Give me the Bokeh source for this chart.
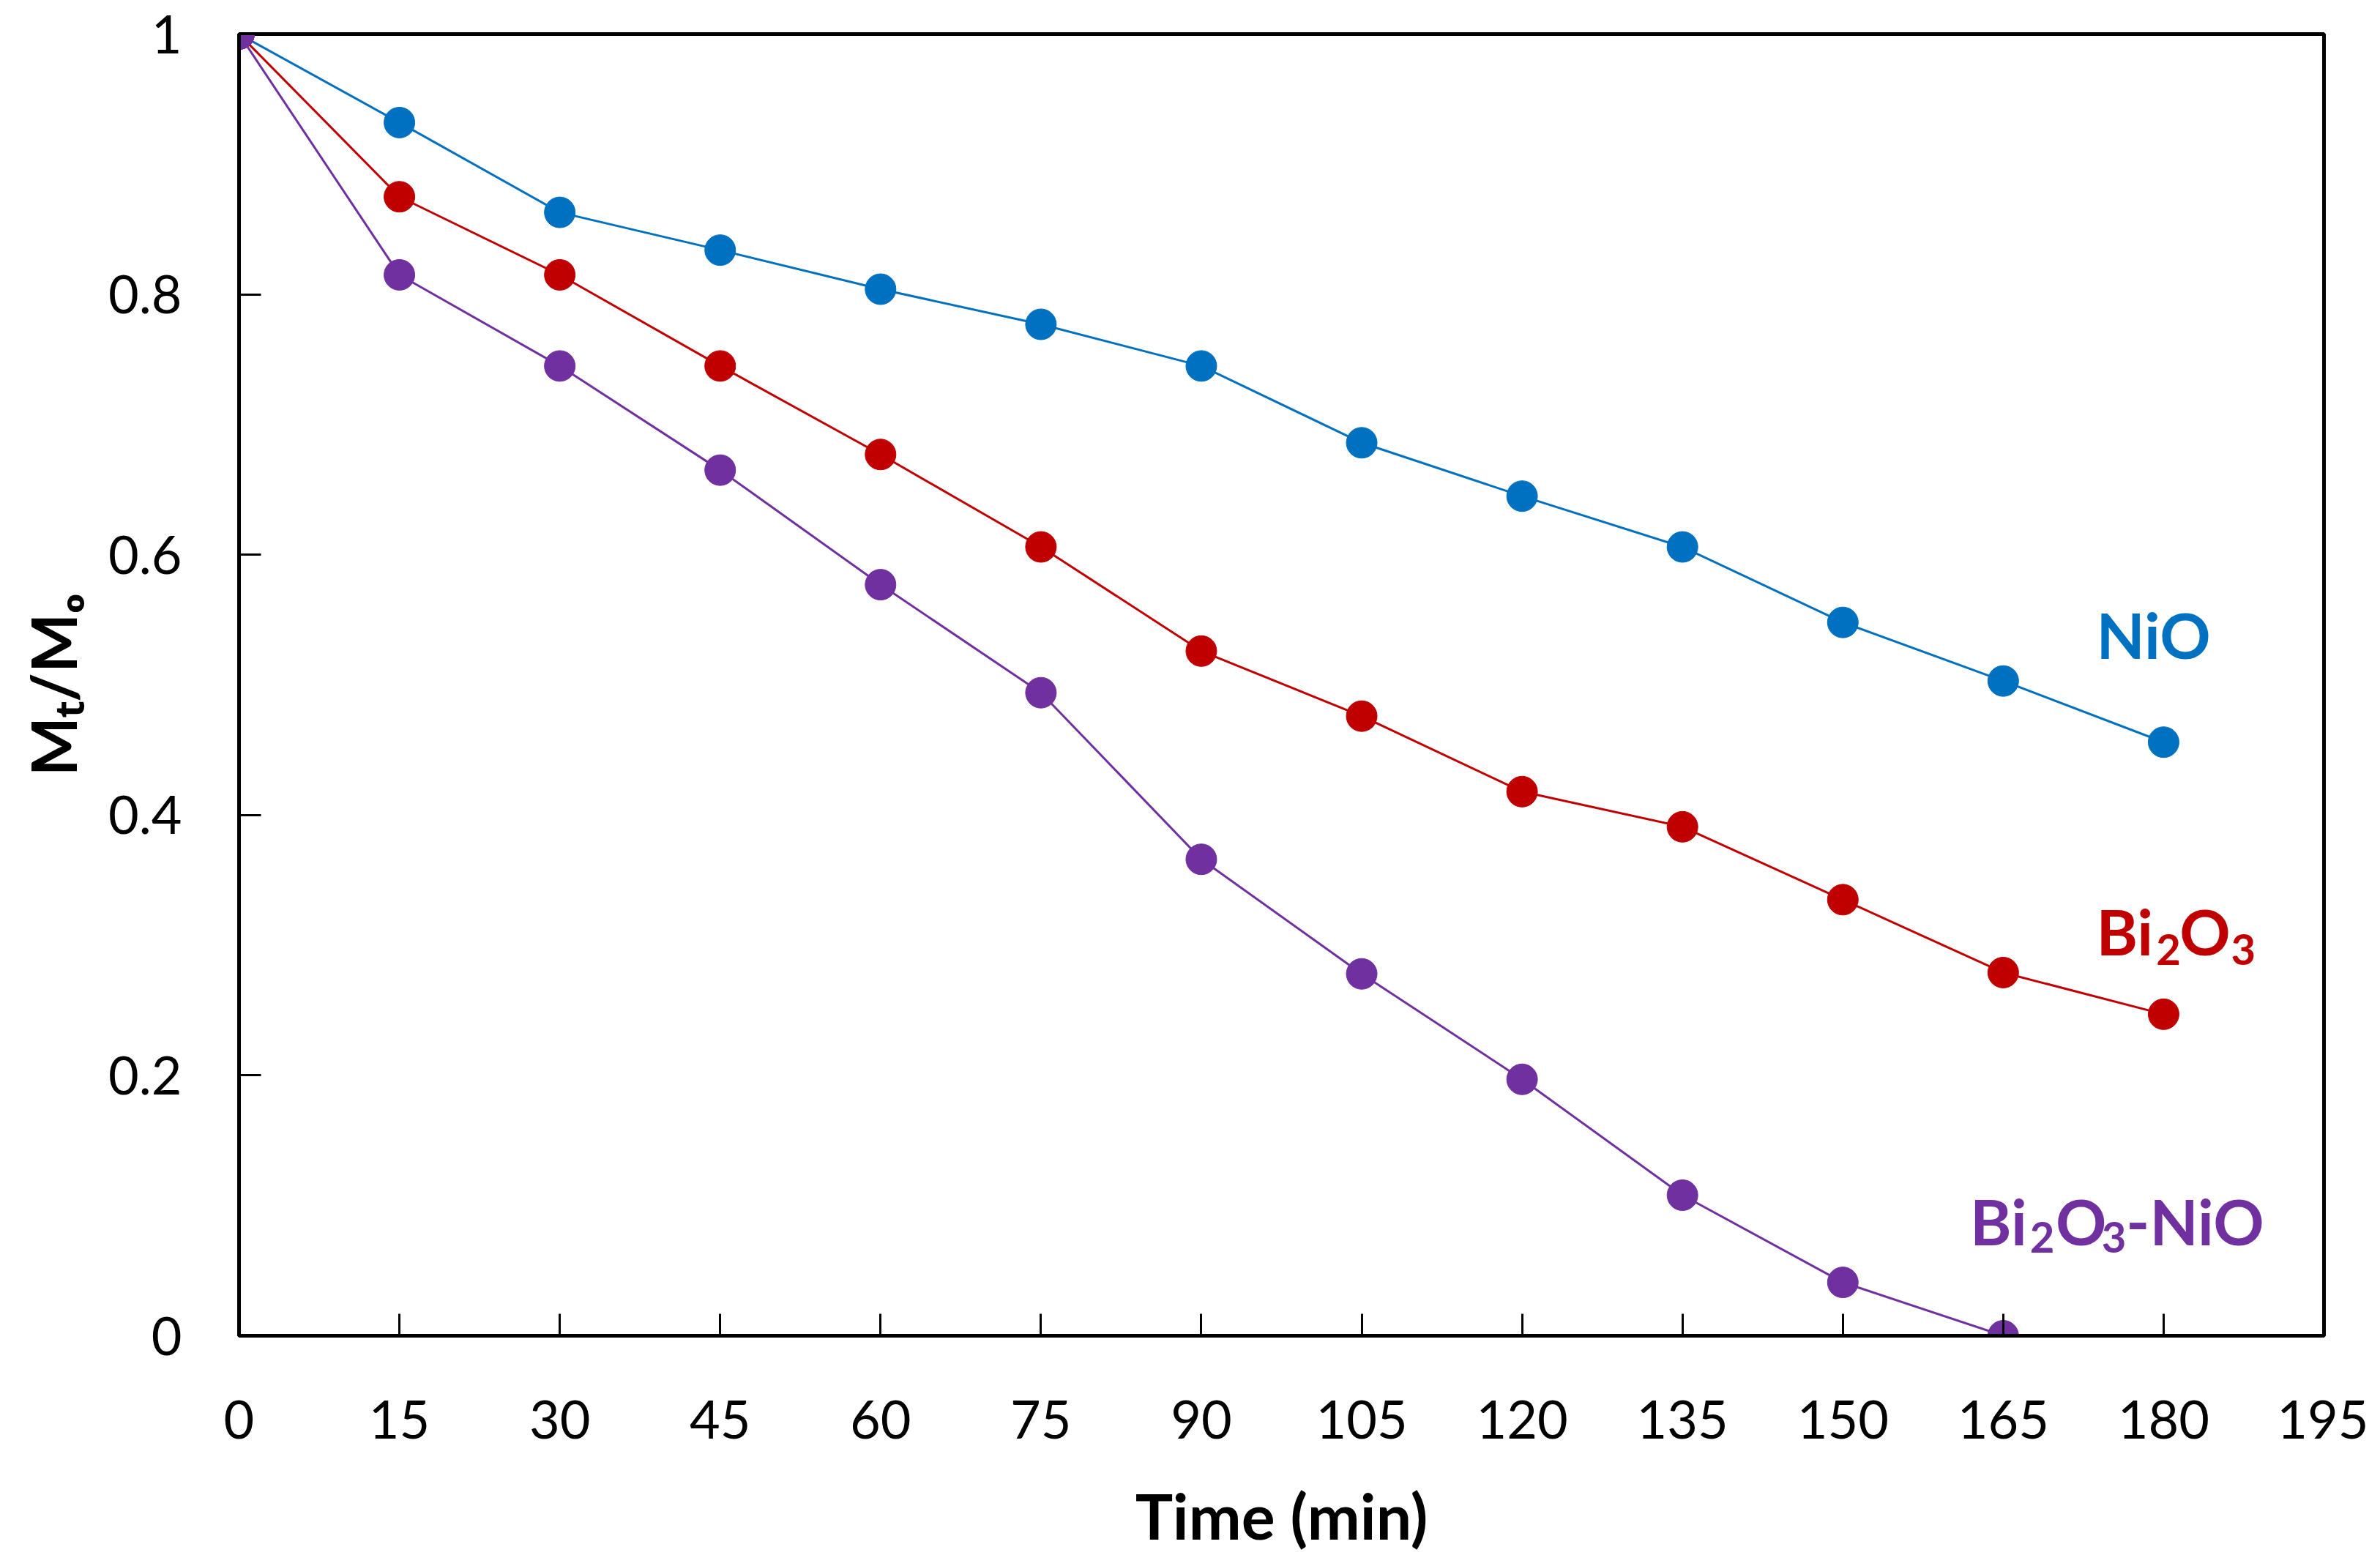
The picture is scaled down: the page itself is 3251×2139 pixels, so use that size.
from bokeh.plotting import figure
from bokeh.models import Range1d, FixedTicker, Label
from bokeh.embed import file_html
from bokeh.resources import INLINE

# ---- data ----
time_min = [0, 15, 30, 45, 60, 75, 90, 105, 120, 135, 150, 165, 180]
nio = [1.0, 0.932, 0.863, 0.834, 0.804, 0.777, 0.745, 0.686, 0.645, 0.606, 0.548, 0.503, 0.456]
bi2o3 = [1.0, 0.875, 0.815, 0.745, 0.677, 0.606, 0.526, 0.476, 0.418, 0.391, 0.335, 0.279, 0.247]
time_mix = [0, 15, 30, 45, 60, 75, 90, 105, 120, 135, 150, 165]
bi2o3_nio = [1.0, 0.815, 0.745, 0.665, 0.577, 0.494, 0.366, 0.278, 0.197, 0.108, 0.041, 0.0]

x_ticks = [0, 15, 30, 45, 60, 75, 90, 105, 120, 135, 150, 165, 180, 195]
x_tick_labels = ["0", "15", "30", "45", "60", "75", "90", "105", "120", "135", "150", "165", "180", "195"]
y_ticks = [0, 0.2, 0.4, 0.6, 0.8, 1.0]
y_tick_labels = ["0", "0.2", "0.4", "0.6", "0.8", "1"]

BLUE = "#0070C0"
RED = "#C00000"
PURPLE = "#7030A0"
FONT = "Lato"

W, H = 3235, 2123
p = figure(width=W, height=H, output_backend="svg", toolbar_location=None,
           x_range=Range1d(0, 195), y_range=Range1d(0, 1),
           min_border_left=326, min_border_right=61, min_border_top=46, min_border_bottom=298)
p.background_fill_color = "white"
p.border_fill_color = "white"
p.grid.visible = False
p.outline_line_color = "black"
p.outline_line_width = 5

for ax in (p.xaxis[0], p.yaxis[0]):
    ax.axis_line_width = 5
    ax.axis_line_color = "black"
    ax.major_tick_in = 30
    ax.major_tick_out = 0
    ax.major_tick_line_width = 3
    ax.major_tick_line_color = "black"
    ax.minor_tick_line_color = None
    ax.major_label_text_font = FONT
    ax.major_label_text_font_size = "72px"
    ax.major_label_text_color = "black"
    ax.axis_label_text_font = FONT
    ax.axis_label_text_font_style = "bold"
    ax.axis_label_text_font_size = "86px"
    ax.axis_label_text_color = "black"

p.xaxis.ticker = FixedTicker(ticks=x_ticks)
p.xaxis.major_label_overrides = {t: l for t, l in zip(x_ticks, x_tick_labels)}
p.yaxis.ticker = FixedTicker(ticks=y_ticks)
p.yaxis.major_label_overrides = {t: l for t, l in zip(y_ticks, y_tick_labels)}
p.xaxis.major_label_standoff = 88
p.yaxis.major_label_standoff = 78

p.xaxis.axis_label = "Time (min)"
p.xaxis.axis_label_standoff = 50
p.yaxis.axis_label = "M\u209c/M\u2092"
p.yaxis.axis_label_standoff = 22

# ---- series ----
series = [(time_min, nio, BLUE), (time_min, bi2o3, RED), (time_mix, bi2o3_nio, PURPLE)]
for xs, ys, c in series:
    p.line(xs, ys, line_color=c, line_width=3)
    p.scatter(xs, ys, size=42, marker="circle", fill_color=c, line_color=c)

# ---- text helpers ----
def lab(x, y, text, color, size):
    p.add_layout(Label(x=x, y=y, text=text, text_color=color, text_font=FONT,
                       text_font_style="bold", text_font_size=size,
                       text_align="left", text_baseline="alphabetic"))

BIG, SUB = "86px", "58px"
# NiO
lab(173.7, 0.539, "NiO", BLUE, BIG)
# Bi2O3
lab(173.7, 0.311, "Bi", RED, BIG)
lab(179.3, 0.2965, "2", RED, SUB)
lab(181.5, 0.311, "O", RED, BIG)
lab(186.3, 0.2965, "3", RED, SUB)
# Bi2O3-NiO
lab(161.9, 0.0885, "Bi", PURPLE, BIG)
lab(167.5, 0.0759, "2", PURPLE, SUB)
lab(169.9, 0.0885, "O", PURPLE, BIG)
lab(174.2, 0.0759, "3", PURPLE, SUB)
lab(176.5, 0.0885, "-NiO", PURPLE, BIG)

open("out.html", "w").write(file_html(p, INLINE))
